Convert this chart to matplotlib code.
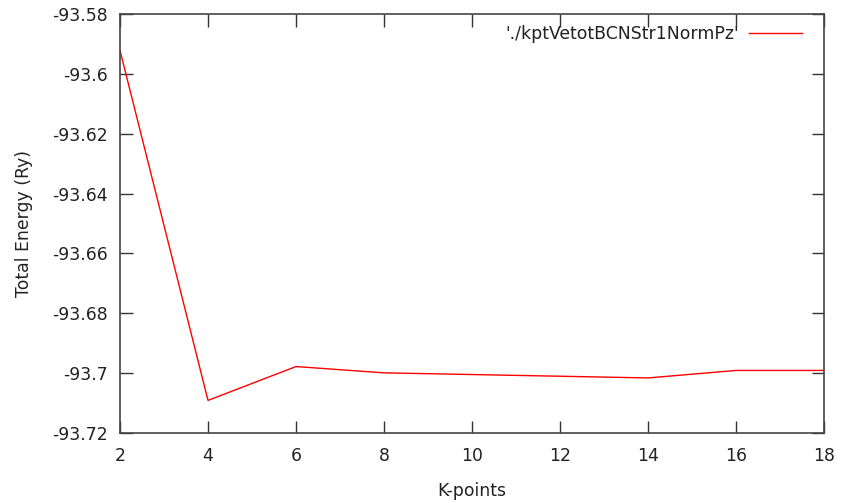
import matplotlib
matplotlib.use("Agg")
import matplotlib.pyplot as plt

kpoints = [2, 4, 6, 8, 14, 16, 18]
energy = [-93.5922, -93.7091, -93.6978, -93.6999, -93.7016, -93.6991, -93.6991]
series_label = "'./kptVetotBCNStr1NormPz'"
xticks = [2, 4, 6, 8, 10, 12, 14, 16, 18]
yticks = [-93.72, -93.70, -93.68, -93.66, -93.64, -93.62, -93.60, -93.58]
ytick_labels = ["-93.72", "-93.7", "-93.68", "-93.66", "-93.64", "-93.62", "-93.6", "-93.58"]

plt.rcParams['font.family'] = ['DejaVu Sans']
fs = 12.4
fig = plt.figure(figsize=(8.41, 5.03), dpi=100)
W, H = 841, 503
ax = fig.add_axes([120 / W, (H - 433) / H, (824 - 120) / W, (433 - 14) / H])

ax.plot(kpoints, energy, color='#ff0000', lw=1.0, label=series_label)
ax.set_xlim(2, 18)
ax.set_ylim(-93.72, -93.58)
ax.set_xticks(xticks)
ax.set_xticklabels([str(t) for t in xticks])
ax.set_yticks(yticks)
ax.set_yticklabels(ytick_labels)
ax.tick_params(direction='in', length=9, width=1, top=True, right=True,
               labelsize=fs, color='#333333', labelcolor='#222222')
ax.tick_params(axis='x', pad=10)
ax.tick_params(axis='y', pad=8.5)
for s in ax.spines.values():
    s.set_color('#444444')
    s.set_linewidth(1.2)
ax.set_xlabel('K-points', fontsize=fs, color='#222222', labelpad=12)
ax.set_ylabel('Total Energy (Ry)', fontsize=fs, color='#222222', labelpad=14)

leg = ax.legend(loc='upper right', frameon=False, markerfirst=False, fontsize=fs,
                handlelength=3.08, handletextpad=0.58,
                bbox_to_anchor=(1.0 - 5 / 704, 1.0 + 6 / 419),
                borderaxespad=0.6)
for t in leg.get_texts():
    t.set_color('#222222')

fig.savefig('out.png', dpi=100)
